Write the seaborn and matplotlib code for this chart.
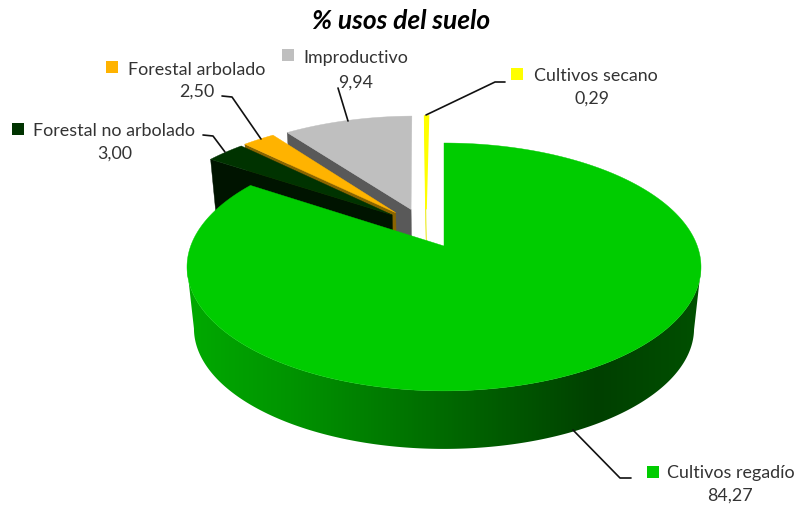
import numpy as np
import pandas as pd
import seaborn as sns
import matplotlib.pyplot as plt
from matplotlib.patches import Polygon

# --- Data ---
USOS = ["Cultivos regadío", "Forestal no arbolado", "Forestal arbolado", "Improductivo", "Cultivos secano"]
PORCENTAJES = [84.27, 3.00, 2.50, 9.94, 0.29]
ETIQUETAS_VALOR = ["84,27", "3,00", "2,50", "9,94", "0,29"]
TITULO = "% usos del suelo"

# --- Style ---
COLOR_TOP = ["#00CC00", "#003300", "#FFB300", "#BFBFBF", "#FFFF00"]
COLOR_WALL = ["#008000", "#001400", "#8A6400", "#595959", "#E8E800"]
EDGE_WIDTH = [0.3, 0.3, 0.3, 0.3, 1.2]
EXPLODE = [(0, 0), (-0.214, -0.27), (-0.20, -0.29), (-0.137, -0.32), (-0.075, -0.321)]
WALL_STOPS = ["#00AA00", "#009400", "#007800", "#005C00", "#004000", "#005000"]
TEXT_COLOR = "#333333"

# pie projection, in pixels of the figure
CX, CY = 444, 246
RX, RY, K = 253.3, 120.4, 0.169
DEPTH, VANISH_Y = 0.973, 2540

# label layout: square x/y, name x/y, value x/y, leader line
LAYOUT = {
    "Cultivos regadío": ((653, 472), (667, 473), (730, 496), [(573, 430), (620, 478), (631, 478)]),
    "Forestal no arbolado": ((18, 129), (33, 131), (115, 154), [(203, 135), (213, 136), (225, 152)]),
    "Forestal arbolado": ((112, 67), (128, 70), (197, 92), [(222, 96), (232, 97), (261, 139)]),
    "Improductivo": ((288, 55), (303, 58), (356, 83), [(338, 88), (348, 121)]),
    "Cultivos secano": ((517, 74), (534, 76), (592, 99), [(426, 115), (495, 82), (505, 82)]),
}


def project(x, y, bottom=False):
    """Pie plane (unit circle) to figure pixels, with perspective."""
    w = 1 - K * y
    px = CX + RX * x / w
    py = CY + RY * y / w
    if bottom:
        px = CX + DEPTH * (px - CX)
        py = VANISH_Y + DEPTH * (py - VANISH_Y)
    return px, py


def arc(start, end, n=150):
    theta = np.radians(np.linspace(start, end, n))
    return np.sin(theta), -np.cos(theta)


def draw_slice(ax, start, end, offset, top, wall, lw):
    dx, dy = offset
    ax0, ay0 = project(dx, dy)
    bx0, by0 = project(dx, dy, bottom=True)
    xs, ys = arc(start, end)
    tx, ty = project(xs + dx, ys + dy)
    bx, by = project(xs + dx, ys + dy, bottom=True)
    # radial wall on the start side faces the viewer
    ax.fill([ax0, tx[0], bx[0], bx0], [ay0, ty[0], by[0], by0], color=wall, lw=0.3, zorder=2)
    ax.fill(np.r_[ax0, tx], np.r_[ay0, ty], color=top, lw=lw, zorder=2)


def draw_main(ax, start, end, top):
    xs, ys = arc(start, end, 500)
    tx, ty = project(xs, ys)

    # outer wall: horizontal gradient clipped to the visible band,
    # the widest point of the projected ellipse is at y = K
    front = ys > K
    bx, by = project(xs[front], ys[front], bottom=True)
    band = Polygon(np.c_[np.r_[tx[front], bx[::-1]], np.r_[ty[front], by[::-1]]],
                   closed=True, transform=ax.transData, fc="none", ec="none")
    ax.add_patch(band)
    cmap = sns.blend_palette(WALL_STOPS, as_cmap=True)
    shade = np.linspace(0, 1, 512).reshape(1, -1)
    img = ax.imshow(shade, cmap=cmap, extent=(187, 701, 460, 240), aspect="auto", zorder=3)
    img.set_clip_path(band)

    ax.fill(np.r_[CX, tx], np.r_[CY, ty], color=top, lw=0.3, zorder=4)


def main():
    sns.set_theme(style="white")
    plt.rcParams["font.family"] = ["Lato", "DejaVu Sans"]

    fig = plt.figure(figsize=(7.95, 5.05), dpi=100)
    ax = fig.add_axes([0, 0, 1, 1])

    bounds = np.r_[0, np.cumsum(PORCENTAJES)] * 3.6
    # far slices first, the last exploded slice next to the main one goes on top
    for i in [4, 3, 2, 1]:
        draw_slice(ax, bounds[i], bounds[i + 1], EXPLODE[i], COLOR_TOP[i], COLOR_WALL[i], EDGE_WIDTH[i])
    draw_main(ax, bounds[0], bounds[1], COLOR_TOP[0])

    squares = pd.DataFrame({
        "x": [LAYOUT[u][0][0] for u in USOS],
        "y": [LAYOUT[u][0][1] for u in USOS],
        "uso": USOS,
    })
    sns.scatterplot(data=squares, x="x", y="y", hue="uso", palette=COLOR_TOP, marker="s",
                    s=75, linewidth=0, legend=False, ax=ax, zorder=6)

    for uso, valor in zip(USOS, ETIQUETAS_VALOR):
        _, name_xy, value_xy, leader = LAYOUT[uso]
        ax.text(*name_xy, uso, fontsize=12.9, color=TEXT_COLOR, va="center", ha="left", zorder=7)
        ax.text(*value_xy, valor, fontsize=12.9, color=TEXT_COLOR, va="center", ha="center", zorder=7)
        lx, ly = zip(*leader)
        ax.plot(lx, ly, color="#111111", lw=1.2, zorder=5)

    ax.text(401, 21, TITULO, fontsize=19, fontweight="bold", fontstyle="italic",
            color="black", ha="center", va="center")

    ax.set_xlim(0, 795)
    ax.set_ylim(505, 0)
    ax.axis("off")
    fig.savefig("out.png", dpi=100)


if __name__ == "__main__":
    main()
